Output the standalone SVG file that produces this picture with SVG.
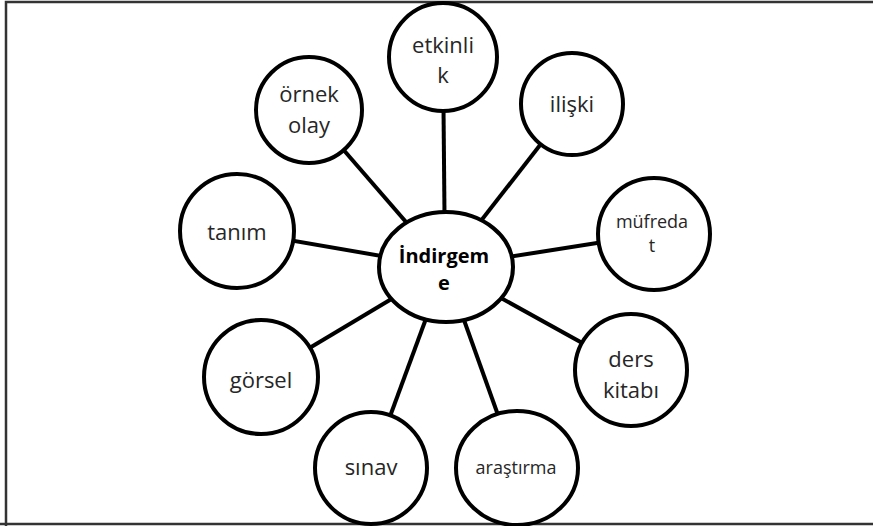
<svg xmlns="http://www.w3.org/2000/svg" width="873" height="526" viewBox="0 0 873 526">
<style>
.n{fill:#fff;stroke:#000;stroke-width:4}
.c line{stroke:#000;stroke-width:4}
text{font-family:"Open Sans","Liberation Sans",sans-serif;font-size:22px;fill:#262626;text-anchor:middle}
.s{font-size:18px}
.b{font-weight:bold;fill:#000;font-size:20px}
</style>
<rect x="0" y="0" width="873" height="526" fill="#fff"/>
<path d="M6 526 V2 H873 M0 524 H873" fill="none" stroke="#333" stroke-width="2.5"/>
<g class="c">
<line x1="445" y1="267" x2="443" y2="55"/>
<line x1="445" y1="267" x2="309" y2="110"/>
<line x1="445" y1="267" x2="572" y2="104"/>
<line x1="445" y1="267" x2="237" y2="231"/>
<line x1="445" y1="267" x2="654" y2="234"/>
<line x1="445" y1="267" x2="261" y2="377"/>
<line x1="445" y1="267" x2="631" y2="370"/>
<line x1="445" y1="267" x2="371" y2="468"/>
<line x1="445" y1="267" x2="517" y2="468"/>
</g>
<g id="etkinlik"><circle class="n" cx="443" cy="57" r="54"/><text x="443" y="53">etkinli</text><text x="443" y="83">k</text></g>
<g id="ornek-olay"><circle class="n" cx="309" cy="110" r="53"/><text x="309" y="102">örnek</text><text x="309" y="133">olay</text></g>
<g id="iliski"><circle class="n" cx="572" cy="104" r="51"/><text x="572" y="112">ilişki</text></g>
<g id="tanim"><circle class="n" cx="237" cy="231" r="57"/><text x="237" y="240">tanım</text></g>
<g id="mufredat"><circle class="n" cx="654" cy="234" r="56"/><text class="s" x="652" y="228">müfreda</text><text class="s" x="652" y="252">t</text></g>
<g id="indirgeme"><ellipse class="n" cx="446" cy="267" rx="67" ry="55"/><text class="b" x="444" y="263">İndirgem</text><text class="b" x="444" y="290">e</text></g>
<g id="gorsel"><circle class="n" cx="261" cy="377" r="57"/><text x="261" y="388">görsel</text></g>
<g id="ders-kitabi"><circle class="n" cx="631" cy="370" r="56"/><text x="631" y="367">ders</text><text x="631" y="398">kitabı</text></g>
<g id="sinav"><circle class="n" cx="371" cy="468" r="56"/><text x="371" y="475" fill="#000">sınav</text></g>
<g id="arastirma"><ellipse class="n" cx="517" cy="468" rx="61" ry="57"/><text class="s" x="516" y="474">araştırma</text></g>
</svg>
